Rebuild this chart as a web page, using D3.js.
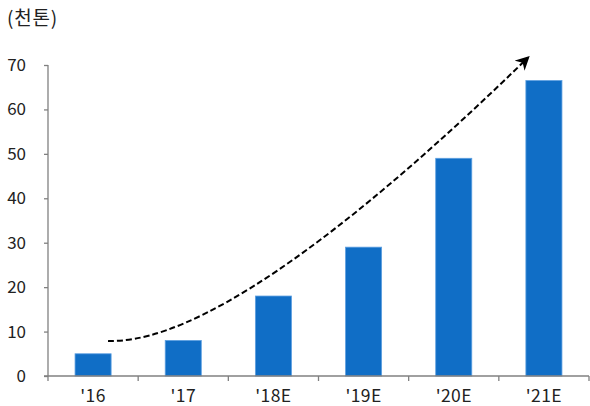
<!DOCTYPE html>
<html>
<head>
<meta charset="utf-8">
<script src="https://cdn.jsdelivr.net/npm/d3@7"></script>
<style>
  html, body { margin: 0; padding: 0; background: #fff; }
  svg { display: block; }
  text { font-family: "Noto Sans CJK KR", "Noto Sans", sans-serif; fill: #222; }
</style>
</head>
<body>
<svg id="chart" width="590" height="406"></svg>
<script>
// Annual volume, thousand tonnes
const categories = ["'16", "'17", "'18E", "'19E", "'20E", "'21E"];
const values = [5, 8, 18, 29, 49, 66.5];
const yTicks = [0, 10, 20, 30, 40, 50, 60, 70];
const unitLabel = "(천톤)";
// Trend arrow control points: [category index, value]
const trendPoints = [[0.166, 7.9], [0.854, 7.4], [2.18, 19.4], [4.82, 71.6]];

const width = 590, height = 406;
const margin = { top: 65, right: 1, bottom: 30, left: 48 };
const svg = d3.select("#chart");

const x = d3.scaleBand()
  .domain(categories)
  .range([margin.left, width - margin.right])
  .paddingInner(0.6)
  .paddingOuter(0.3);

const y = d3.scaleLinear()
  .domain([0, 70])
  .range([height - margin.bottom, margin.top]);

// Index-based scale for placing annotation along the category axis
const step = x.step();
const c0 = x(categories[0]) + x.bandwidth() / 2;
const xi = d3.scaleLinear().domain([0, 1]).range([c0, c0 + step]);

// Bars
svg.append("g")
  .selectAll("rect")
  .data(values)
  .join("rect")
  .attr("x", (d, i) => x(categories[i]))
  .attr("y", d => y(d))
  .attr("width", x.bandwidth())
  .attr("height", d => y(0) - y(d))
  .attr("fill", "#106ec6")
  .attr("stroke", "#5d9fe0")
  .attr("stroke-width", 0.8);

// Y axis
const yAxis = svg.append("g")
  .attr("transform", `translate(${margin.left},0)`)
  .call(d3.axisLeft(y).tickValues(yTicks).tickSize(4).tickPadding(18));
yAxis.selectAll("path, line").attr("stroke", "#808080").attr("stroke-width", 1.3);
yAxis.select(".domain").attr("d", `M0,${y(70)}V${y(0)}`);
yAxis.selectAll("text").attr("font-size", 17).attr("fill", "#222")
  .style("font-family", "'Noto Sans CJK KR', sans-serif");

// X axis: ticks at band boundaries
const xAxisG = svg.append("g");
const base = y(0);
xAxisG.append("line")
  .attr("x1", margin.left - 4).attr("x2", width - margin.right)
  .attr("y1", base).attr("y2", base)
  .attr("stroke", "#808080").attr("stroke-width", 1.3);
const boundaries = d3.range(categories.length + 1)
  .map(i => margin.left + i * (width - margin.right - margin.left) / categories.length);
xAxisG.selectAll("line.tick")
  .data(boundaries)
  .join("line")
  .attr("class", "tick")
  .attr("x1", d => d).attr("x2", d => d)
  .attr("y1", base).attr("y2", base + 5)
  .attr("stroke", "#808080").attr("stroke-width", 1.3);
xAxisG.selectAll("text")
  .data(categories)
  .join("text")
  .attr("x", d => x(d) + x.bandwidth() / 2)
  .attr("y", base + 26)
  .attr("text-anchor", "middle")
  .attr("font-size", 17.5)
  .attr("letter-spacing", 0.4)
  .text(d => d);

// Unit label
svg.append("text")
  .attr("x", 7)
  .attr("y", 25)
  .attr("font-size", 19)
  .attr("letter-spacing", 0.8)
  .text(unitLabel);

// Dashed trend arrow
const defs = svg.append("defs");
defs.append("marker")
  .attr("id", "arrowhead")
  .attr("viewBox", "0 0 10 10")
  .attr("refX", 8).attr("refY", 5)
  .attr("markerWidth", 7).attr("markerHeight", 7)
  .attr("markerUnits", "strokeWidth")
  .attr("orient", "auto")
  .append("path")
  .attr("d", "M0,0 L10,5 L0,10 L3,5 Z")
  .attr("fill", "#000");

const pts = trendPoints.map(([i, v]) => [xi(i), y(v)]);
const path = d3.path();
path.moveTo(pts[0][0], pts[0][1]);
path.bezierCurveTo(pts[1][0], pts[1][1], pts[2][0], pts[2][1], pts[3][0], pts[3][1]);
svg.append("path")
  .attr("d", path.toString())
  .attr("fill", "none")
  .attr("stroke", "#000")
  .attr("stroke-width", 2)
  .attr("stroke-dasharray", "6,3")
  .attr("marker-end", "url(#arrowhead)");
</script>
</body>
</html>
